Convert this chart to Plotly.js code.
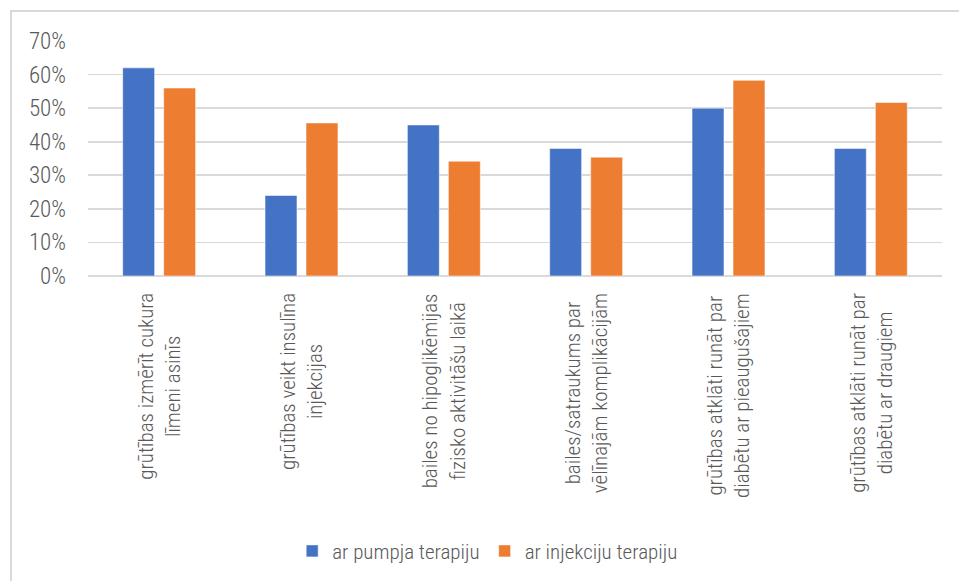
<!DOCTYPE html>
<html>
<head>
<meta charset="utf-8">
<script src="https://cdn.plot.ly/plotly-3.0.1.min.js"></script>
<style>
  html, body { margin: 0; padding: 0; background: #ffffff; }
  #wrap { position: relative; width: 959px; height: 581px; overflow: hidden; }
  #frame { position: absolute; left: 10px; top: 10px; width: 960px; height: 600px;
           border-left: 2px solid #d9d9d9; border-top: 2px solid #d9d9d9; box-sizing: border-box; }
  #chart { position: absolute; left: 0; top: 0; width: 959px; height: 581px; }
</style>
</head>
<body>
<div id="wrap">
  <div id="frame"></div>
  <div id="chart"></div>
</div>
<script>
// Survey answers, share of respondents per therapy group
const categories = [
  'grūtības izmērīt cukura<br>līmeni asinīs',
  'grūtības veikt insulīna<br>injekcijas',
  'bailes no hipoglikēmijas<br>fizisko aktivitāšu laikā',
  'bailes/satraukums par<br>vēlīnajām komplikācijām',
  'grūtības atklāti runāt par<br>diabētu ar pieaugušajiem',
  'grūtības atklāti runāt par<br>diabētu ar draugiem'
];
const pumpValues = [0.62, 0.24, 0.45, 0.38, 0.50, 0.38];
const injectionValues = [0.56, 0.456, 0.342, 0.354, 0.583, 0.517];
const seriesNames = ['ar pumpja terapiju', 'ar injekciju terapiju'];
const yTicks = [0, 0.1, 0.2, 0.3, 0.4, 0.5, 0.6, 0.7];

const FONT = "'Liberation Sans Narrow', 'Arial Narrow', 'Roboto Condensed', 'DejaVu Sans Condensed', sans-serif";
const GREY = '#595959';

const ids = categories.map((c, i) => i);

const traces = [
  {
    type: 'bar', name: seriesNames[0], x: ids, y: pumpValues,
    marker: { color: '#4472C4', line: { color: 'rgba(255,255,255,0.55)', width: 1 } },
    hoverinfo: 'skip'
  },
  {
    type: 'bar', name: seriesNames[1], x: ids, y: injectionValues,
    marker: { color: '#ED7D31', line: { color: 'rgba(255,255,255,0.55)', width: 1 } },
    hoverinfo: 'skip'
  }
];

// Category labels: rotated, two centred lines under each group
const labelAnnotations = categories.map((c, i) => ({
  x: i, xref: 'x', y: -0.064, yref: 'paper',
  text: c, textangle: -90, showarrow: false,
  xanchor: 'center', yanchor: 'top', align: 'center',
  font: { family: FONT, size: 21, color: GREY, weight: 300 }
}));

const layout = {
  width: 959, height: 581,
  paper_bgcolor: 'rgba(0,0,0,0)', plot_bgcolor: 'rgba(0,0,0,0)',
  margin: { l: 88, r: 17, t: 41, b: 304 },
  barmode: 'group', bargap: 0.424, bargroupgap: 0.22,
  font: { family: FONT, color: GREY, weight: 300 },
  xaxis: {
    type: 'linear', range: [-0.5, categories.length - 0.5],
    showticklabels: false, showgrid: false, zeroline: false, ticks: '', fixedrange: true
  },
  yaxis: {
    range: [0, 0.7], tickvals: yTicks, tickformat: '.0%',
    showgrid: true, gridcolor: '#d9d9d9', gridwidth: 1.6,
    zeroline: true, zerolinecolor: '#d9d9d9', zerolinewidth: 1.6,
    showline: false, ticks: '', ticklabelstandoff: 21,
    tickfont: { family: FONT, size: 23, color: GREY, weight: 300 }, fixedrange: true
  },
  showlegend: true,
  legend: {
    orientation: 'h', x: 0.468, xanchor: 'center', y: -1.162, yanchor: 'middle',
    font: { family: FONT, size: 21, color: GREY, weight: 300 }, bgcolor: 'rgba(0,0,0,0)'
  },
  annotations: labelAnnotations
};

Plotly.newPlot('chart', traces, layout, { staticPlot: true, displayModeBar: false });
</script>
</body>
</html>
